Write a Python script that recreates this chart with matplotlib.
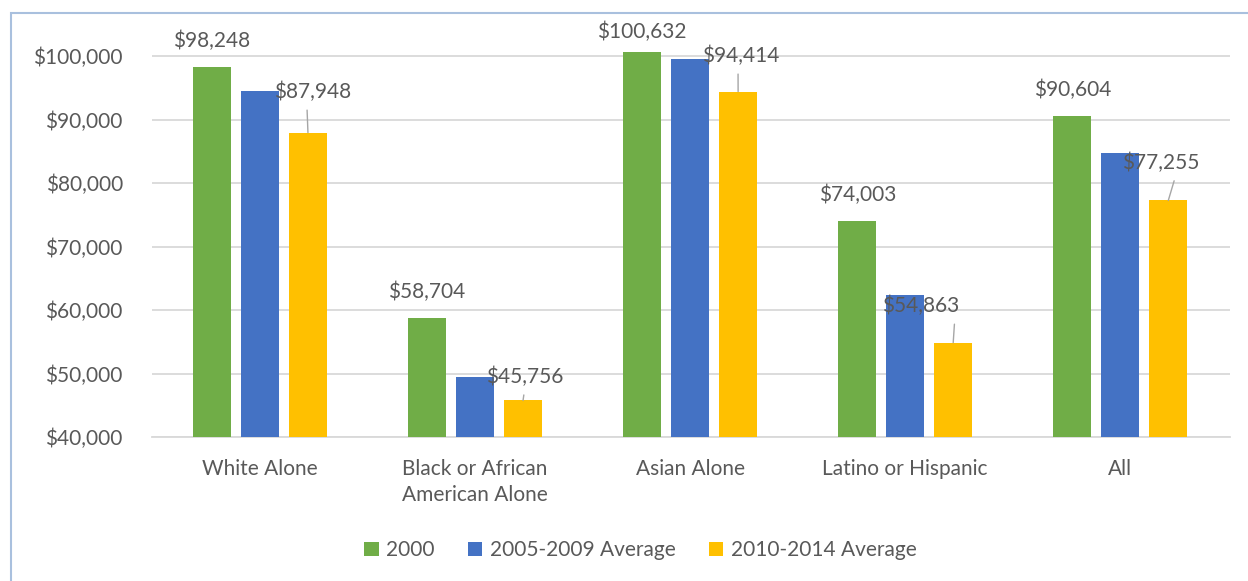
import numpy as np
import matplotlib.pyplot as plt
from matplotlib.patches import Rectangle

# Data
categories = ['White Alone', 'Black or African\nAmerican Alone', 'Asian Alone',
              'Latino or Hispanic', 'All']
series_names = ['2000', '2005-2009 Average', '2010-2014 Average']
income_2000 = [98248, 58704, 100632, 74003, 90604]
income_2005_2009 = [94450, 49450, 99500, 62350, 84700]   # unlabeled
income_2010_2014 = [87948, 45756, 94414, 54863, 77255]
yticks = [40000, 50000, 60000, 70000, 80000, 90000, 100000]

colors = ['#70AD47', '#4472C4', '#FFC000']
text_color = '#595959'
grid_color = '#D9D9D9'
fs = 15

plt.rcParams['font.family'] = ['Lato', 'DejaVu Sans']

fig = plt.figure(figsize=(12.48, 5.81), dpi=100)
ax = fig.add_axes([0.1218, 0.2478, 0.8638, 0.7005])

x = np.arange(len(categories))
width = 0.177
offset = 0.223
all_series = [income_2000, income_2005_2009, income_2010_2014]
for i, (vals, col, name) in enumerate(zip(all_series, colors, series_names)):
    ax.bar(x + (i - 1) * offset, vals, width, color=col, label=name, zorder=3)

# Labels on the 2000 bars
green_offsets = [26, 26, 20, 26, 26]
for xi, v, dy in zip(x, income_2000, green_offsets):
    ax.annotate(f'${v:,.0f}', (xi - offset, v), xytext=(0, dy),
                textcoords='offset pixels', ha='center', va='center',
                fontsize=fs, color=text_color)

# Labels on the 2010-2014 bars, with leader lines
yellow_offsets = [(5, 41), (2, 24), (3, 36), (-33, 37), (-8, 38)]
leader_relpos = [0.42, 0.5, 0.46, 0.95, 0.71]
for xi, v, (dx, dy), rp in zip(x, income_2010_2014, yellow_offsets, leader_relpos):
    ax.annotate(f'${v:,.0f}', (xi + offset, v), xytext=(dx, dy),
                textcoords='offset pixels', ha='center', va='center',
                fontsize=fs, color=text_color,
                arrowprops=dict(arrowstyle='-', color='#A6A6A6', lw=1,
                                relpos=(rp, 0), shrinkA=4, shrinkB=0))

ax.set_xlim(-0.502, 4.51)
ax.set_ylim(40000, 104100)
ax.set_yticks(yticks)
ax.set_yticklabels([f'${t:,.0f}' for t in yticks])
ax.set_xticks(x)
ax.set_xticklabels(categories, linespacing=1.35)
ax.tick_params(axis='both', length=0, labelsize=fs, labelcolor=text_color)
ax.tick_params(axis='y', pad=21)
ax.tick_params(axis='x', pad=16)
ax.grid(axis='y', color=grid_color, lw=1.3, zorder=0)
for s in ['top', 'right', 'left']:
    ax.spines[s].set_visible(False)
ax.spines['bottom'].set_color(grid_color)
ax.spines['bottom'].set_linewidth(1.3)

leg = fig.legend(loc='center', bbox_to_anchor=(0.513, 0.053), ncol=3, frameon=False,
                 fontsize=fs, handlelength=0.7, handleheight=0.7,
                 handletextpad=0.35, columnspacing=1.6)
for t in leg.get_texts():
    t.set_color(text_color)

# Chart border
fig.patches.append(Rectangle((11 / 1248, -0.05), 1.1, 1 - 13 / 581 + 0.05,
                             transform=fig.transFigure, fill=False,
                             edgecolor='#A9C0DE', lw=1.5))

fig.savefig('out.png', dpi=100)
